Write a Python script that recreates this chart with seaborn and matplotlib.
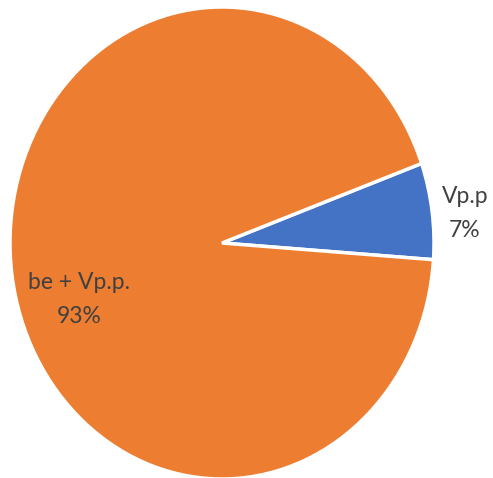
import matplotlib
matplotlib.use("Agg")
import matplotlib.pyplot as plt
import seaborn as sns

categories = ["Vp.p", "be + Vp.p."]
values = [6.6, 93.4]
pct_labels = ["7%", "93%"]
colors = ["#4472C4", "#ED7D31"]

sns.set_theme(style="white")
plt.rcParams['font.family'] = ['Lato', 'DejaVu Sans']

fig = plt.figure(figsize=(4.93, 4.78), dpi=100)
ax = fig.add_axes([10/493, -1/478, 424/493, 472/478])
wedges, _ = ax.pie(values, colors=colors, startangle=19.7, counterclock=False,
                   wedgeprops=dict(edgecolor="white", linewidth=2.5))
ax.set_aspect("auto")
ax.set_xlim(-1, 1)
ax.set_ylim(-1, 1)
ax.axis("off")

label_pos = [(1.146, 0.125), (-0.675, -0.24)]
for (x, y), cat, p in zip(label_pos, categories, pct_labels):
    ax.text(x, y, f"{cat}\n{p}", ha="center", va="center", fontsize=16.5,
            color="#404040", linespacing=1.8)

fig.savefig("out.png", dpi=100, facecolor="white")
